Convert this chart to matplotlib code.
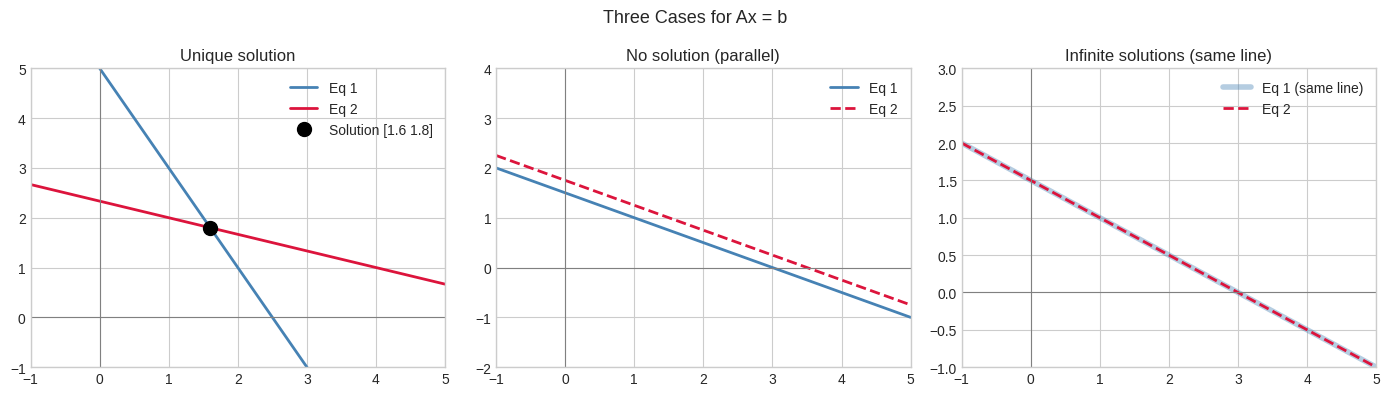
import matplotlib.pyplot as plt
import numpy as np

plt.style.use('seaborn-v0_8-whitegrid')
plt.rcParams['font.family'] = ['Liberation Sans', 'DejaVu Sans']

# x range shared by all panels
x = np.array([-1, 5])

# Unique solution: 2x + y = 5, x + 3y = 7
u_eq1 = np.array([7, -5])
u_eq2 = np.array([8 / 3, 2 / 3])
u_sol = np.array([1.6, 1.8])

# No solution: x + 2y = 3, x + 2y = 3.5
p_eq1 = np.array([2, -1])
p_eq2 = np.array([2.25, -0.75])

# Infinite solutions: x + 2y = 3, 2x + 4y = 6
s_eq1 = np.array([2, -1])
s_eq2 = np.array([2, -1])

fig, axes = plt.subplots(1, 3, figsize=(14, 4))

ax = axes[0]
ax.plot(x, u_eq1, color='steelblue', lw=2, label='Eq 1')
ax.plot(x, u_eq2, color='crimson', lw=2, label='Eq 2')
ax.plot(u_sol[0], u_sol[1], 'ko', markersize=10, label='Solution %s' % str(u_sol))
ax.set_ylim(-1, 5)
ax.set_title('Unique solution')

ax = axes[1]
ax.plot(x, p_eq1, color='steelblue', lw=2, label='Eq 1')
ax.plot(x, p_eq2, color='crimson', lw=2, ls='--', label='Eq 2')
ax.set_ylim(-2, 4)
ax.set_title('No solution (parallel)')

ax = axes[2]
ax.plot(x, s_eq1, color='steelblue', lw=4, alpha=0.4, label='Eq 1 (same line)')
ax.plot(x, s_eq2, color='crimson', lw=2, ls='--', label='Eq 2')
ax.set_ylim(-1, 3)
ax.set_title('Infinite solutions (same line)')

for ax in axes:
    ax.axhline(0, color='gray', lw=0.8)
    ax.axvline(0, color='gray', lw=0.8)
    ax.set_xlim(-1, 5)
    ax.legend(loc='upper right')
    for s in ax.spines.values():
        s.set_visible(True)
        s.set_color('#cccccc')

fig.suptitle('Three Cases for Ax = b', fontsize=13)
plt.tight_layout()
plt.savefig('out.png', dpi=100, bbox_inches='tight')
